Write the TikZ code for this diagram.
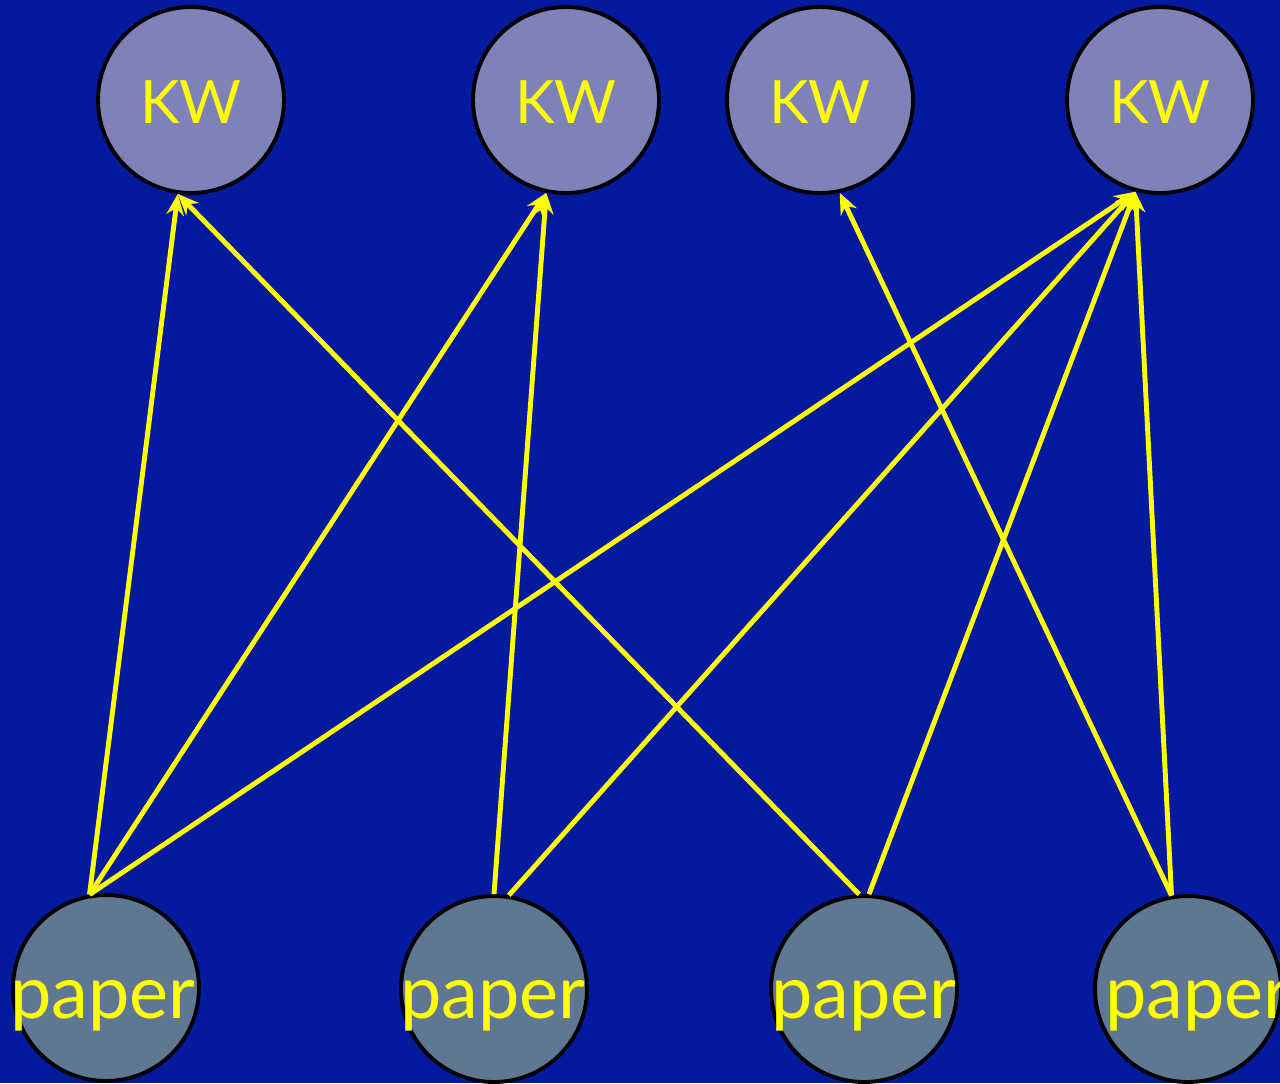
\documentclass[tikz,border=0pt]{standalone}
\usepackage{fontspec}
\setmainfont{Lato}
\usetikzlibrary{arrows.meta}
\definecolor{bg}{HTML}{041A9E}
\definecolor{kwfill}{HTML}{7F82B8}
\definecolor{paperfill}{HTML}{5F7793}
\definecolor{yel}{HTML}{FFFF00}
\tikzset{
  kw/.style={circle, draw=black, line width=2.2pt, fill=kwfill, minimum size=3.72cm, inner sep=0pt},
  paper/.style={circle, draw=black, line width=2.2pt, fill=paperfill, minimum size=3.72cm, inner sep=0pt},
  kwtext/.style={text=yel, font=\fontsize{34}{40}\selectfont, anchor=base, inner sep=0pt},
  papertext/.style={text=yel, font=\fontsize{42}{50}\selectfont, anchor=base, inner sep=0pt},
  link/.style={draw=yel, line width=2.8pt, -{Stealth[length=12pt,width=10pt]}}
}
\begin{document}
\begin{tikzpicture}[x=0.02cm, y=-0.02cm]
\fill[bg] (0,0) rectangle (1280,1083);
\useasboundingbox (0,0) rectangle (1280,1083);
\node[kw] (k1) at (191,100) {};
\node[kw] (k2) at (566,100) {};
\node[kw] (k3) at (820,100) {};
\node[kw] (k4) at (1160,100) {};
\node[paper] (p1) at (106,988) {};
\node[paper] (p2) at (494,989) {};
\node[paper] (p3) at (864,989) {};
\node[paper] (p4) at (1188,989) {};
\node[kwtext] (tk1) at (191,123) {KW};
\node[kwtext] (tk2) at (566,123) {KW};
\node[kwtext] (tk3) at (820,123) {KW};
\node[kwtext] (tk4) at (1160,123) {KW};
\node[papertext] (tp1) at (103,1018) {paper};
\node[papertext] (tp2) at (493,1018) {paper};
\node[papertext] (tp3) at (864,1018) {paper};
\node[papertext] (tp4) at (1198,1018) {paper};
\draw[link] (p1.100) -- (k1.262);
\draw[link] (p1.100) -- (k2.258);
\draw[link] (p1.100) -- (k4.255);
\draw[link] (p2.90) -- (k2.258);
\draw[link] (p2.81) -- (k4.255);
\draw[link] (p3.93) -- (k1.262);
\draw[link] (p3.87) -- (k4.255);
\draw[link] (p4.100) -- (k4.255);
\draw[link] (p4.100) -- (k3.282);
\end{tikzpicture}
\end{document}
